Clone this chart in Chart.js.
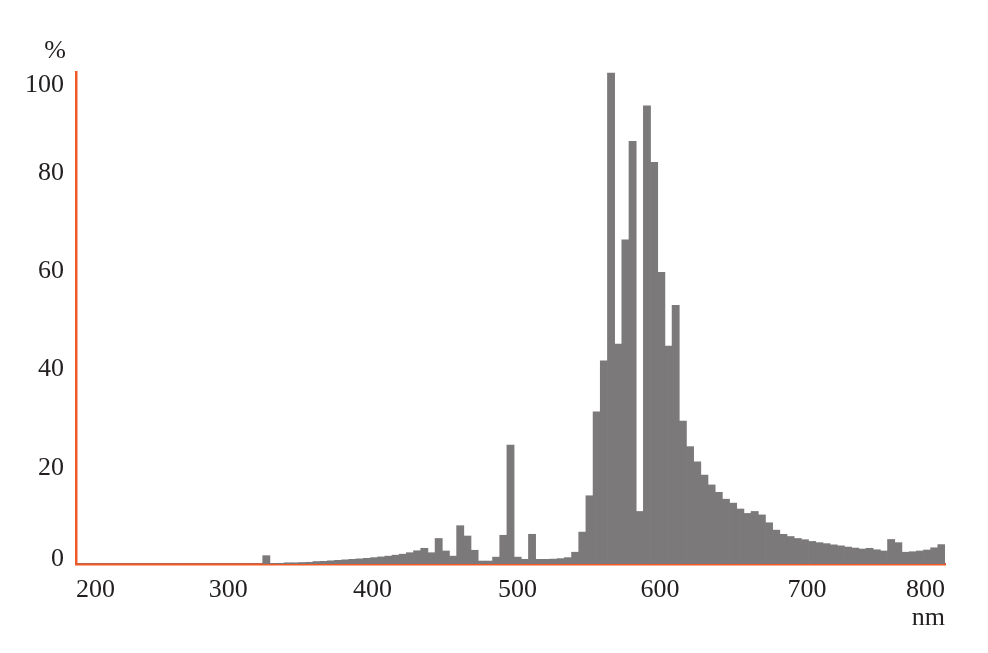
<html>
<head>
<meta charset="utf-8">
<script src="https://cdn.jsdelivr.net/npm/chart.js"></script>
<style>
  body { margin: 0; background: #fff; }
  .wrap { position: relative; width: 988px; height: 653px; }
</style>
</head>
<body>
<div class="wrap">
  <canvas id="spectrum"></canvas>
</div>
<script>
// wavelength bins (start of each 5 nm bin)
const binStart = [
  195,200,205,210,215,220,225,230,235,240,
  245,250,255,260,265,270,275,280,285,290,
  295,300,305,310,315,320,325,330,335,340,
  345,350,355,360,365,370,375,380,385,390,
  395,400,405,410,415,420,425,430,435,440,
  445,450,455,460,465,470,475,480,485,490,
  495,500,505,510,515,520,525,530,535,540,
  545,550,555,560,565,570,575,580,585,590,
  595,600,605,610,615,620,625,630,635,640,
  645,650,655,660,665,670,675,680,685,690,
  695,700,705,710,715,720,725,730,735,740,
  745,750,755,760,765,770,775,780,785,790,
  795
];
const binWidth = 5;

// relative intensity, %
const intensity = [
  0,0,0,0,0,0,0,0,0,0,
  0,0,0,0,0,0,0,0,0,0,
  0,0,0,0,0,0,1.7,0.1,0.15,0.25,
  0.25,0.3,0.35,0.5,0.55,0.65,0.75,0.85,0.95,1.05,
  1.15,1.3,1.45,1.6,1.8,2.0,2.3,2.7,3.2,2.3,
  5.2,2.65,1.6,7.8,5.7,2.8,0.6,0.6,1.4,5.85,
  24.2,1.4,0.95,6.05,0.95,0.95,1.0,1.1,1.3,2.4,
  6.5,13.9,31.0,41.4,100,44.8,66.0,86.1,10.7,93.3,
  81.8,59.4,44.4,52.7,29.1,23.9,20.8,18.1,16.1,14.6,
  13.2,12.4,11.2,10.3,10.7,10.0,8.4,6.9,6.05,5.6,
  5.2,4.95,4.6,4.35,4.15,3.9,3.7,3.45,3.25,3.05,
  3.2,2.9,2.65,5.0,4.35,2.4,2.5,2.65,2.85,3.3,
  3.95
];

// tick labels and where they sit
const xTickPos = [195, 301, 401.4, 502.4, 601.6, 703.9, 800];
const xTickLabels = ['200', '300', '400', '500', '600', '700', '800'];
const yTickPos = [1, 19.6, 39.6, 59.6, 79.6, 97.6];
const yTickLabels = ['0', '20', '40', '60', '80', '100'];

const xUnit = 'nm';
const yUnit = '%';

const axisColor = '#f05a28';
const barColor = '#7b797a';
const textColor = '#231f20';
const font = { family: "'Liberation Serif', 'DejaVu Serif', serif", size: 26 };

const unitLabel = {
  id: 'unitLabel',
  afterDraw(chart) {
    const ctx = chart.ctx;
    const ys = chart.scales.y;
    ctx.save();
    ctx.font = font.size + 'px ' + font.family;
    ctx.fillStyle = textColor;
    ctx.textAlign = 'right';
    ctx.textBaseline = 'middle';
    ctx.fillText(yUnit, ys.right - 10, chart.chartArea.top - 21);
    ctx.restore();
  }
};

function drawSpectrum() {
  const ctx = document.getElementById('spectrum');
  const points = binStart.map((b, i) => ({ x: b + binWidth / 2, y: intensity[i] }));

  new Chart(ctx, {
    type: 'bar',
    data: {
      datasets: [{
        data: points,
        backgroundColor: barColor,
        borderWidth: 0,
        barPercentage: 1,
        categoryPercentage: 1
      }]
    },
    options: {
      animation: false,
      responsive: true,
      maintainAspectRatio: false,
      layout: { padding: { top: 72, right: 43, left: 0, bottom: 0 } },
      plugins: {
        legend: { display: false },
        tooltip: { enabled: false }
      },
      scales: {
        x: {
          type: 'linear',
          offset: false,
          min: 195,
          max: 800,
          afterBuildTicks: (s) => { s.ticks = xTickPos.map(v => ({ value: v })); },
          afterFit: (s) => { s.height = 89; },
          ticks: {
            align: 'inner',
            autoSkip: false,
            maxRotation: 0,
            padding: 11,
            color: textColor,
            font: font,
            callback: (v, i) => xTickLabels[i]
          },
          grid: { display: false, drawTicks: false, offset: false },
          border: { display: true, color: axisColor, width: 2.5 },
          title: {
            display: true,
            text: xUnit,
            align: 'end',
            color: textColor,
            font: font,
            padding: { top: 0, bottom: 19 }
          }
        },
        y: {
          min: 0,
          max: 100.2,
          afterBuildTicks: (s) => { s.ticks = yTickPos.map(v => ({ value: v })); },
          afterFit: (s) => { s.width = 76; },
          ticks: {
            autoSkip: false,
            padding: 12,
            color: textColor,
            font: font,
            callback: (v, i) => yTickLabels[i]
          },
          grid: { display: false, drawTicks: false },
          border: { display: true, color: axisColor, width: 2.5 }
        }
      }
    },
    plugins: [unitLabel]
  });
}
drawSpectrum();
</script>
</body>
</html>
